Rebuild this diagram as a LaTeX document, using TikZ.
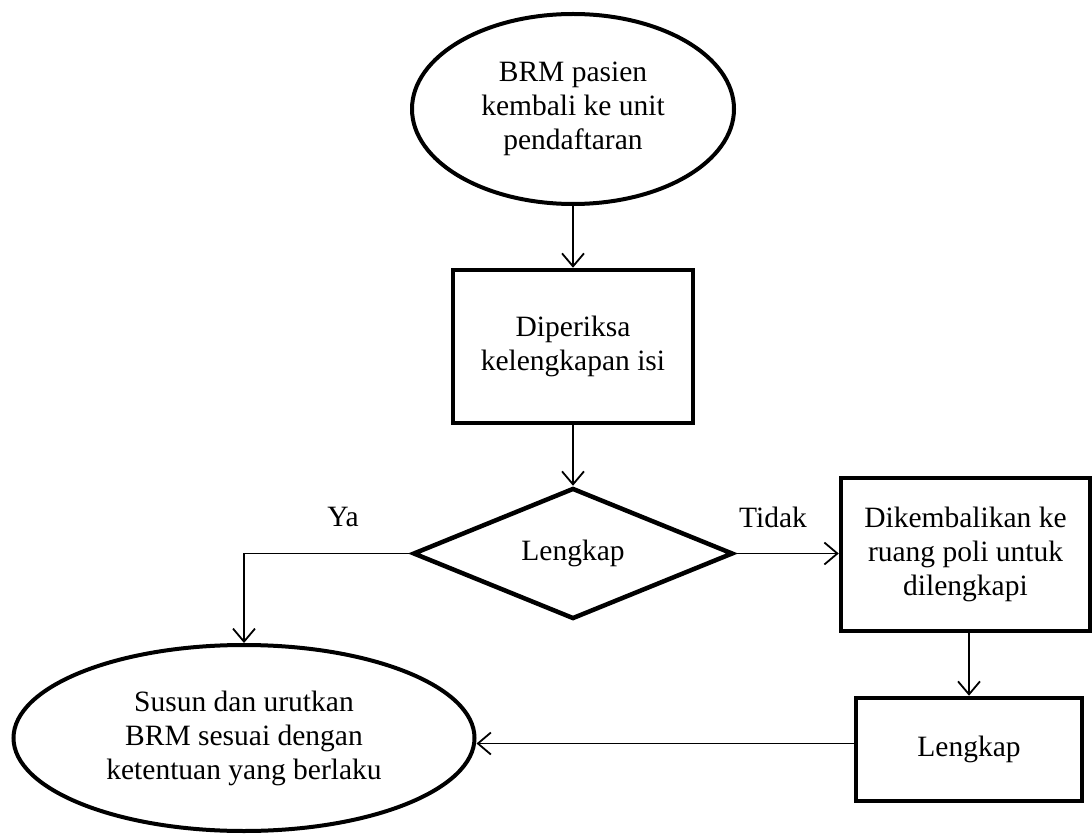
\documentclass[tikz,border=0pt]{standalone}
\usepackage{fontspec}
\setmainfont{Liberation Serif}
\usetikzlibrary{shapes.geometric,arrows.meta}
\begin{document}
\begin{tikzpicture}[x=1pt,y=-1pt,
  txt/.style={font=\fontsize{29.5}{34}\selectfont, align=center, inner sep=0pt},
  oval/.style={txt, ellipse, draw, line width=4pt},
  box/.style={txt, rectangle, draw, line width=4.5pt},
  choice/.style={txt, diamond, draw, line width=4.5pt},
  flow/.style={line width=1.8pt, -{Straight Barb[length=13pt,width=22pt,line width=1.8pt]}},
  link/.style={line width=1.8pt}]
\useasboundingbox (0,0) rectangle (1092,834);

% process nodes
\node[oval, minimum width=322pt, minimum height=190pt] (start) at (573,109)
  {BRM pasien\\kembali ke unit\\pendaftaran};
\node[box, minimum width=240pt, minimum height=153pt] (check) at (573,346.5)
  {Diperiksa\\kelengkapan isi};
\node[choice, minimum width=320pt, minimum height=131pt] (done) at (573,553.5)
  {Lengkap};
\node[box, minimum width=249pt, minimum height=153pt] (back) at (965.5,554.5)
  {Dikembalikan ke\\ruang poli untuk\\dilengkapi};
\node[box, minimum width=226pt, minimum height=103pt] (ok) at (969,749.5)
  {Lengkap};
\node[oval, minimum width=461pt, minimum height=186pt] (sort) at (244,738)
  {Susun dan urutkan\\BRM sesuai dengan\\ketentuan yang berlaku};

% branch labels
\node[txt] (ya) at (343,517) {Ya};
\node[txt] (tidak) at (773,517) {Tidak};

% connectors
\draw[flow] (start) -- (check);
\draw[flow] (check) -- (done);
\draw[flow] (done.west) -| (sort);
\draw[flow] (done.east) -- (back.west |- done.east);
\draw[flow] (ok.north |- back.south) -- (ok.north);
\draw[flow] ([yshift=6pt]ok.west) -- ([yshift=6pt]ok.west -| sort.east);
\end{tikzpicture}
\end{document}
